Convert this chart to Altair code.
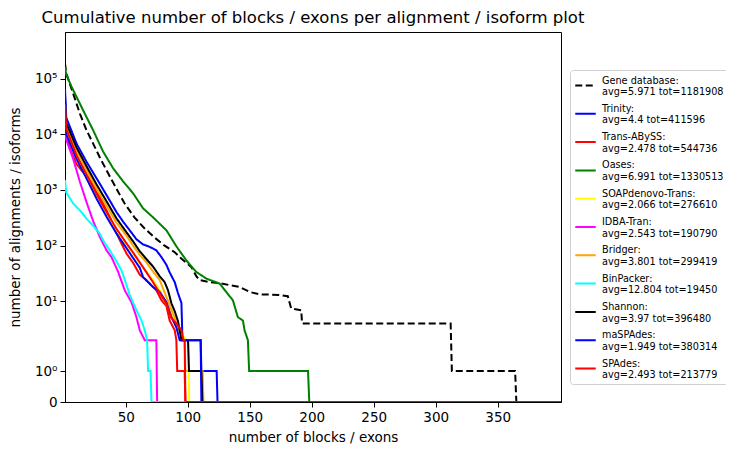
import altair as alt
import pandas as pd
import math

# ---- series names / legend text / colours ----
NAMES = ["Gene database", "Trinity", "Trans-ABySS", "Oases", "SOAPdenovo-Trans",
         "IDBA-Tran", "Bridger", "BinPacker", "Shannon", "maSPAdes", "SPAdes"]
STATS = ["avg=5.971 tot=1181908", "avg=4.4 tot=411596", "avg=2.478 tot=544736",
         "avg=6.991 tot=1330513", "avg=2.066 tot=276610", "avg=2.543 tot=190790",
         "avg=3.801 tot=299419", "avg=12.804 tot=19450", "avg=3.97 tot=396480",
         "avg=1.949 tot=380314", "avg=2.493 tot=213779"]
COLORS = ["#000000", "#0000ff", "#ff0000", "#008000", "#ffff00", "#ff00ff",
          "#ffa500", "#00ffff", "#000000", "#0000ff", "#ff0000"]
DASHES = [[7, 3.5]] + [[1, 0]] * 10

# ---- values (x = number of blocks, y = count) ----
GENE_X = [1, 2, 7.6, 13, 18.4, 23.7, 29, 34.5, 41, 49, 57, 65, 73, 81, 89.5, 95, 103, 107, 109.6,
          117.7, 126, 142, 150, 158, 174, 180.7, 183.4, 191.5, 192.2, 312, 313, 364, 365, 401]
GENE_Y = [188000, 125000, 53800, 23500, 11800, 6800, 3860, 2250, 1210, 575, 322, 205, 141, 101, 76,
          58, 41, 28, 24, 22, 21, 18, 14.7, 13.3, 13, 12.3, 7.4, 6.9, 4, 4, 1, 1, 0, 0]

TRINITY_X = [1, 2, 10.3, 18.4, 29, 37, 42.5, 47.8, 53.2, 58.6, 63.9, 69.3, 74.7, 78.8, 82.8, 85.4,
             89.5, 92.1, 94.9, 95.3, 95.7, 110.4, 111, 123.3, 124, 401]
TRINITY_Y = [65000, 20000, 6800, 3200, 1300, 650, 400, 270, 188, 130, 105, 95, 82, 62, 45, 33,
             22, 14, 9.3, 4.5, 2, 2, 1, 1, 0, 0]

TRANS_X = [1, 2, 5, 10.3, 21, 29, 37, 42.5, 45.2, 50.6, 55.9, 61.3, 66.7, 72, 74.7, 78.8, 82.8,
           85.4, 89.5, 90.8, 91.5, 97.5, 98.1, 401]
TRANS_Y = [30000, 9000, 5500, 2900, 1490, 750, 330, 170, 125, 72, 49, 30, 24, 18, 15.7, 10.4, 8.2,
           4.5, 3, 2, 1, 1, 0, 0]

OASES_X = [1, 2, 6.5, 15.6, 23.7, 31.7, 39.8, 47.8, 55.9, 63.9, 72, 82.8, 90.8, 98.9, 106.9, 115,
           125.7, 131, 136.4, 140.4, 144.5, 145.8, 148.5, 149.5, 197, 198, 401]
OASES_Y = [160000, 118000, 70000, 27000, 11800, 4900, 2450, 1430, 870, 468, 322, 188, 97, 54, 33.6,
           25.5, 20.8, 14.7, 10.4, 5.2, 4.5, 3, 2, 1, 1, 0, 0]

SOAP_X = [1, 2, 10.3, 18.4, 26.4, 34.5, 42.5, 50.6, 55.9, 61.3, 66.7, 72, 77.4, 85.4, 90.8, 98.9,
          100.5, 101.2, 401]
SOAP_Y = [32000, 12000, 4000, 1800, 800, 380, 190, 105, 72, 48, 34, 24, 15.7, 6.9, 3.4, 2, 2, 0, 0]

IDBA_X = [1, 2, 7.6, 13, 18.4, 23.7, 29.1, 34.5, 38.5, 43.8, 49.2, 54.6, 58.6, 61.3, 65.3, 74.7,
          75.3, 401]
IDBA_Y = [22000, 8000, 3600, 1400, 600, 275, 143, 82, 62, 34, 15.7, 9.6, 5.2, 3, 2, 2, 0, 0]

BRIDGER_X = [1, 2, 10.3, 18.4, 26.4, 34.5, 42.5, 50.6, 55.9, 61.3, 66.7, 69.3, 77.4, 82.8, 88.2,
             92.1, 96.1, 97.5, 98.1, 112, 112.6, 401]
BRIDGER_Y = [36000, 14000, 5000, 2300, 1050, 520, 260, 150, 100, 68, 50, 41, 24, 11.9, 6, 3.4, 2,
             2, 1, 1, 0, 0]

BINPACKER_X = [1, 2, 7.6, 13, 18.4, 23.7, 29, 31.7, 34.5, 37.1, 39.8, 42.5, 46.5, 47.8, 53.2, 58.6,
               62.7, 65.3, 67.2, 68, 70, 70.7, 401]
BINPACKER_Y = [1500, 900, 570, 430, 305, 228, 164, 125, 100, 82, 66, 52, 36, 30, 13, 6.9, 4.5, 3,
               2, 1, 1, 0, 0]

SHANNON_X = [1, 2, 10.3, 18.4, 26.4, 34.5, 42.5, 50.6, 55.9, 61.3, 66.7, 72, 77.4, 81.4, 84.1,
             86.8, 89.5, 92.1, 93.5, 94.9, 100.2, 101, 111, 111.8, 401]
SHANNON_Y = [40000, 16000, 5800, 2660, 1260, 625, 309, 173, 119, 79, 57, 42, 28, 22, 15.7, 9.2,
             6.6, 4.4, 3, 2, 2, 1, 1, 0, 0]

MASPADES_X = [1, 2, 10.3, 18.4, 26.4, 34.5, 42.5, 50.6, 55.9, 61.3, 64, 72, 77.4, 82.8, 86.8, 90.8,
              93.5, 110.4, 111, 401]
MASPADES_Y = [50000, 10000, 3600, 1600, 700, 330, 165, 90, 60, 40, 27, 18, 14.7, 9.6, 5.2, 3.4, 2,
              2, 0, 0]

SPADES_X = [1, 2, 10.3, 18.4, 26.4, 34.5, 42.5, 50.6, 55.9, 61.3, 66.7, 72, 77.4, 82.8, 86.8, 90.8,
            95, 96.5, 97.5, 98.1, 401]
SPADES_Y = [34000, 12500, 4200, 1900, 850, 400, 200, 110, 75, 50, 33, 22, 14, 9, 5, 4, 3, 2, 2, 0, 0]

SERIES_X = [GENE_X, TRINITY_X, TRANS_X, OASES_X, SOAP_X, IDBA_X, BRIDGER_X, BINPACKER_X,
            SHANNON_X, MASPADES_X, SPADES_X]
SERIES_Y = [GENE_Y, TRINITY_Y, TRANS_Y, OASES_Y, SOAP_Y, IDBA_Y, BRIDGER_Y, BINPACKER_Y,
            SHANNON_Y, MASPADES_Y, SPADES_Y]

X_TICKS = [50, 100, 150, 200, 250, 300, 350]

LABELS = [f"{n}:|{s}" for n, s in zip(NAMES, STATS)]

rows = []
for k, (xs, ys) in enumerate(zip(SERIES_X, SERIES_Y)):
    for i, (xv, yv) in enumerate(zip(xs, ys)):
        rows.append({"series": LABELS[k], "sid": k, "i": i, "x": xv, "y": yv})
df = pd.DataFrame(rows)

# matplotlib-style symlog (linthresh=2, linscale=1, base 10) as a Vega expression
SYMLOG = "datum.y <= 2 ? datum.y * 10 / 9 : 2 * (10 / 9 + log(datum.y / 2) / LN10)"
ADJ = 10 / 9
Y_TICKS = [0.0, ADJ] + [2 * (ADJ + k - math.log10(2)) for k in range(1, 6)]
Y_TOP = 13.295

y_label_expr = ("datum.value < 0.5 ? '0' : '10' + substring('⁰¹²³⁴⁵', "
                "round(datum.value / 2 - 10 / 9 + 0.30103), "
                "round(datum.value / 2 - 10 / 9 + 0.30103) + 1)")

legend = alt.Legend(title=None, labelExpr="split(datum.label, '|')",
                    orient="none", legendX=505, legendY=38)

x_enc = alt.X("x:Q", scale=alt.Scale(domain=[1, 401], nice=False, zero=False),
              axis=alt.Axis(values=X_TICKS, title="number of blocks / exons", titlePadding=7))
y_enc = alt.Y("ty:Q", scale=alt.Scale(domain=[0, Y_TOP], nice=False, zero=False),
              axis=alt.Axis(values=Y_TICKS, labelExpr=y_label_expr,
                            title="number of alignments / isoforms", titlePadding=12))
color_enc = alt.Color("series:N", scale=alt.Scale(domain=LABELS, range=COLORS), legend=legend)
dash_enc = alt.StrokeDash("series:N", scale=alt.Scale(domain=LABELS, range=DASHES), legend=legend)

base = alt.Chart(df).transform_calculate(ty=SYMLOG)
layers = []
for k in range(len(LABELS)):
    layers.append(
        base.transform_filter(alt.datum.sid == k)
        .mark_line(strokeWidth=2, clip=True)
        .encode(x=x_enc, y=y_enc, color=color_enc, strokeDash=dash_enc, order="i:Q")
    )

chart = (
    alt.layer(*layers)
    .properties(
        width=496, height=370,
        title=alt.TitleParams("Cumulative number of blocks / exons per alignment / isoform plot",
                              font="DejaVu Sans", fontSize=16.5, fontWeight="normal",
                              color="black", anchor="middle", offset=6),
        autosize=alt.AutoSizeParams(type="none"),
        padding={"left": 57, "top": 24, "right": 165, "bottom": 45},
    )
    .configure_view(stroke="black", strokeWidth=1)
    .configure_axis(domainColor="black", tickColor="black", labelColor="black", titleColor="black",
                    labelFont="DejaVu Sans", titleFont="DejaVu Sans", labelFontSize=13.5,
                    titleFontSize=13.5, titleFontWeight="normal", tickSize=5, grid=False,
                    domainWidth=1, tickWidth=1, labelPadding=3)
    .configure_legend(padding=4, strokeColor="#d0d0d0", cornerRadius=3, fillColor="white",
                      labelFont="DejaVu Sans", labelFontSize=9.7, labelColor="black",
                      labelBaseline="bottom", symbolType="stroke", symbolSize=420,
                      symbolStrokeWidth=2, rowPadding=5.3, labelLimit=250, labelOffset=5)
)

chart.save("out.html", embed_options={"renderer": "svg", "actions": False})
